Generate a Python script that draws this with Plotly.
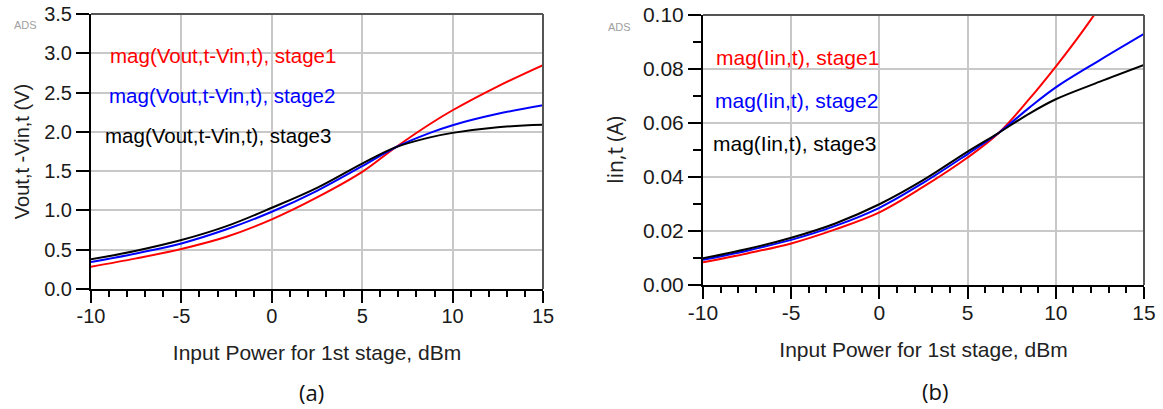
import plotly.graph_objects as go

W, H = 1163, 409

# ---------------- data ----------------
# (a) |Vout - Vin| versus input power
x_a = [-10, -7.5, -5, -2.5, 0, 2.5, 5, 6.8, 8.75, 10, 12.5, 15]
v_stage1 = [0.284, 0.39, 0.51, 0.665, 0.886, 1.165, 1.49, 1.795, 2.10, 2.275, 2.58, 2.85]
v_stage2 = [0.343, 0.453, 0.58, 0.76, 0.983, 1.25, 1.564, 1.798, 1.987, 2.085, 2.23, 2.34]
v_stage3 = [0.377, 0.487, 0.623, 0.80, 1.034, 1.288, 1.597, 1.800, 1.93, 1.987, 2.06, 2.09]

# (b) |Iin| versus input power
x_b = [-10, -7.5, -5, -2.5, 0, 2.5, 5, 6.7, 8.5, 10, 12.5, 15]
x_b_red = [-10, -7.5, -5, -2.5, 0, 2.5, 5, 6.7, 8.5, 10, 11, 12, 12.5]
i_stage1 = [0.0084, 0.0117, 0.0154, 0.0206, 0.0269, 0.0364, 0.0472, 0.0559, 0.0689, 0.0809, 0.0894, 0.0984, 0.1031]
i_stage2 = [0.0093, 0.0127, 0.0167, 0.0219, 0.0286, 0.0379, 0.0485, 0.0560, 0.0657, 0.0732, 0.0833, 0.093]
i_stage3 = [0.0099, 0.0133, 0.0175, 0.0228, 0.0299, 0.0389, 0.0494, 0.0561, 0.0635, 0.0688, 0.0753, 0.0815]

x_tickvals = [-10, -5, 0, 5, 10, 15]
x_ticktext = ["-10", "-5", "0", "5", "10", "15"]

labels_a = ["mag(Vout,t-Vin,t), stage1", "mag(Vout,t-Vin,t), stage2", "mag(Vout,t-Vin,t), stage3"]
labels_b = ["mag(Iin,t), stage1", "mag(Iin,t), stage2", "mag(Iin,t), stage3"]
colors = ["#ff0000", "#0000ff", "#000000"]

x_title = "Input Power for 1st stage, dBm"
ya_title = "Vout,t -Vin,t (V)"
yb_title = "Iin,t (A)"

# ---------------- figure ----------------
ARIAL = "Liberation Sans, Arial, sans-serif"
fig = go.Figure()

for ys, c, name in zip([v_stage1, v_stage2, v_stage3], colors, labels_a):
    fig.add_trace(go.Scatter(x=x_a, y=ys, mode="lines", name=name,
                             line=dict(color=c, width=2, shape="spline", smoothing=1.0),
                             xaxis="x", yaxis="y", showlegend=False))

for xs, ys, c, name in zip([x_b_red, x_b, x_b], [i_stage1, i_stage2, i_stage3], colors, labels_b):
    fig.add_trace(go.Scatter(x=xs, y=ys, mode="lines", name=name,
                             line=dict(color=c, width=2, shape="spline", smoothing=1.0),
                             xaxis="x2", yaxis="y2", showlegend=False))

def px_x(p):
    return p / W

def px_y(p):
    return 1 - p / H

grid = "#c8c8c8"
common_x = dict(range=[-10, 15], tickmode="array", tickvals=x_tickvals, ticktext=x_ticktext,
                showgrid=True, gridcolor=grid, gridwidth=1.5,
                showline=True, linecolor="black", linewidth=2, ticks="outside", ticklen=12,
                tickwidth=1.5, tickcolor="black", zeroline=False, ticklabelstandoff=-4,
                minor=dict(dtick=1, tick0=-10, ticks="outside", ticklen=6, tickwidth=1.5,
                           tickcolor="black", showgrid=False),
                title=dict(text=x_title, font=dict(family=ARIAL, size=21, color="#222"), standoff=19),
                automargin=False)

fig.update_layout(
    width=W, height=H,
    margin=dict(l=0, r=0, t=0, b=0),
    paper_bgcolor="white", plot_bgcolor="white",
    xaxis=dict(domain=[px_x(91), px_x(543)], anchor="y",
               tickfont=dict(family=ARIAL, size=20, color="#1a1a1a"), **common_x),
    yaxis=dict(domain=[px_y(289), px_y(14)], anchor="x", range=[0, 3.5], dtick=0.5, tick0=0,
               tickformat=".1f", showgrid=True, gridcolor=grid, gridwidth=1.5,
               showline=True, linecolor="black", linewidth=2, ticks="outside", ticklen=13,
               tickwidth=1.5, tickcolor="black", zeroline=False,
               tickfont=dict(family=ARIAL, size=20, color="#1a1a1a"),
               title=dict(text=ya_title, font=dict(family=ARIAL, size=20, color="#222"), standoff=9),
               automargin=False),
    xaxis2=dict(domain=[px_x(703), px_x(1144)], anchor="y2",
                tickfont=dict(family=ARIAL, size=21, color="#1a1a1a"), **common_x),
    yaxis2=dict(domain=[px_y(285), px_y(15)], anchor="x2", range=[0, 0.1], dtick=0.02, tick0=0,
                tickformat=".2f", showgrid=True, gridcolor=grid, gridwidth=1.5,
                showline=True, linecolor="black", linewidth=2, ticks="outside", ticklen=13,
                tickwidth=1.5, tickcolor="black", zeroline=False,
                minor=dict(dtick=0.01, tick0=0, ticks="outside", ticklen=8, tickwidth=1.5,
                           tickcolor="black", showgrid=False),
                tickfont=dict(family=ARIAL, size=21, color="#1a1a1a"),
                title=dict(text=yb_title, font=dict(family="Open Sans, sans-serif", size=21, color="#222"), standoff=14),
                automargin=False),
)

# plot frames (grey top/right border)
shapes = []
for xr, yr in [("x domain", "y domain"), ("x2 domain", "y2 domain")]:
    shapes.append(dict(type="line", xref=xr, yref=yr, x0=0, x1=1, y0=1, y1=1,
                       line=dict(color="#555", width=2), layer="above"))
    shapes.append(dict(type="line", xref=xr, yref=yr, x0=1, x1=1, y0=0, y1=1,
                       line=dict(color="#555", width=2), layer="above"))
fig.update_layout(shapes=shapes)

# in-plot series labels
ann = []
for lab, c, (lx, ly) in zip(labels_a, colors, [(108, 56), (107, 96), (103, 135)]):
    ann.append(dict(text=lab, x=px_x(lx), y=px_y(ly), xref="paper", yref="paper",
                    xanchor="left", yanchor="middle", showarrow=False,
                    font=dict(family=ARIAL, size=20.5, color=c)))
for lab, c, (lx, ly) in zip(labels_b, colors, [(714, 57), (713, 100), (711, 143)]):
    ann.append(dict(text=lab, x=px_x(lx), y=px_y(ly), xref="paper", yref="paper",
                    xanchor="left", yanchor="middle", showarrow=False,
                    font=dict(family=ARIAL, size=21, color=c)))
# ADS marks
for ax_, ay_ in [(25, 25), (619, 27)]:
    ann.append(dict(text="ADS", x=px_x(ax_), y=px_y(ay_), xref="paper", yref="paper",
                    xanchor="center", yanchor="middle", showarrow=False,
                    font=dict(family=ARIAL, size=11, color="#a0a0a0")))
# captions
for cap, cx, cy in [("(a)", 311, 392), ("(b)", 935, 391)]:
    ann.append(dict(text=cap, x=px_x(cx), y=px_y(cy), xref="paper", yref="paper",
                    xanchor="center", yanchor="middle", showarrow=False,
                    font=dict(family="Open Sans, sans-serif", size=22, color="#111")))
fig.update_layout(annotations=ann)

fig.write_html("out.html")
